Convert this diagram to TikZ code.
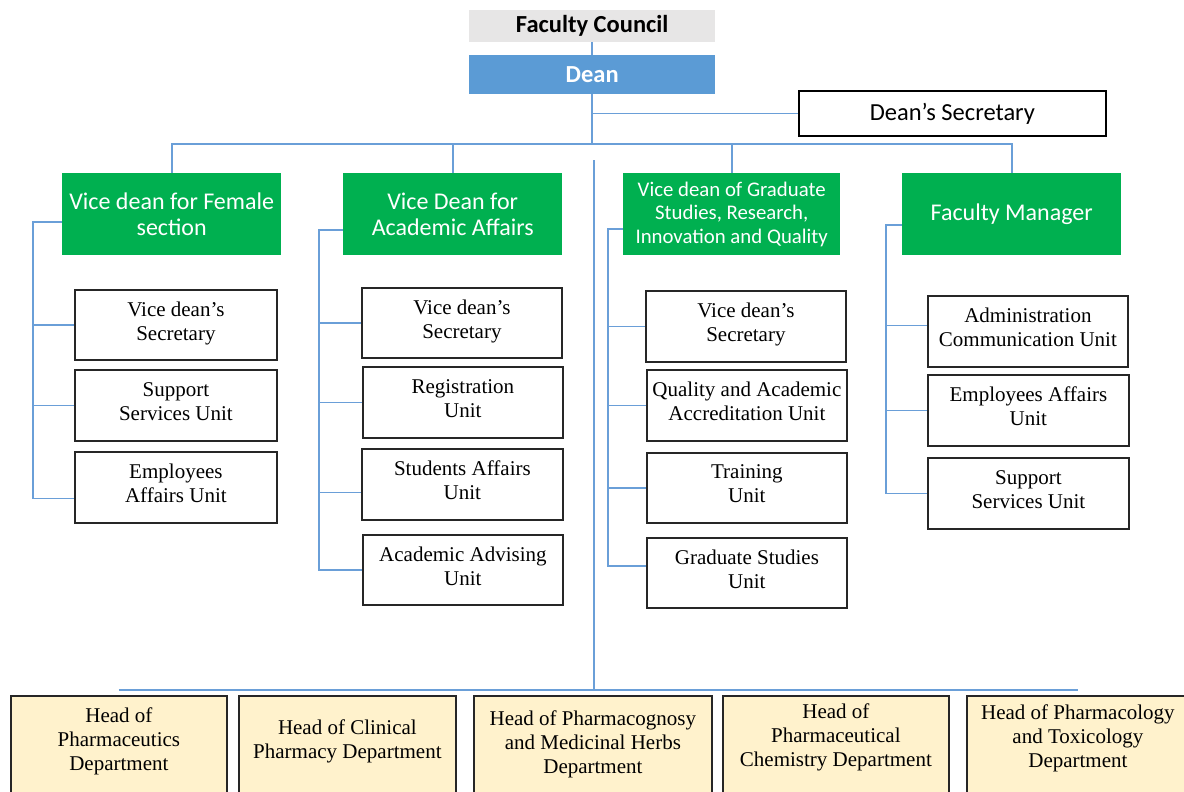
\documentclass[tikz,border=0pt]{standalone}
\usepackage{fontspec}
\setmainfont{Liberation Serif}
\newfontfamily\carlito{Carlito}
\usetikzlibrary{calc}
\definecolor{cblue}{HTML}{5B9BD5}
\definecolor{cgreen}{HTML}{00B050}
\definecolor{cgray}{HTML}{E7E6E6}
\definecolor{cyel}{HTML}{FFF2CC}
\definecolor{cline}{HTML}{6A9FD8}
\tikzset{
  box/.style={anchor=north west, inner sep=0pt, align=center},
  topbox/.style={box, fill=cgray, font=\carlito\bfseries\fontsize{24.5}{26}\selectfont},
  deanbox/.style={box, fill=cblue, text=white, font=\carlito\bfseries\fontsize{24.5}{26}\selectfont},
  secbox/.style={box, draw=black, line width=1.8pt, font=\carlito\fontsize{24.5}{26}\selectfont},
  vicebox/.style={box, fill=cgreen, text=white, font=\carlito\fontsize{24}{26}\selectfont},
  unitbox/.style={box, draw=black!85, line width=1.8pt, font=\fontsize{21}{24}\selectfont},
  depbox/.style={box, draw=black!85, fill=cyel, line width=1.8pt},
  deptext/.style={align=center, inner sep=0pt, font=\fontsize{21}{24}\selectfont},
  conn/.style={draw=cline, line width=1.6pt},
}
\newcommand\up{\\[-16pt]}
\begin{document}
\begin{tikzpicture}[x=1pt,y=1pt]
\useasboundingbox (0,0) rectangle (1184,-792);
\fill[white] (0,0) rectangle (1184,-792);

% top
\node[topbox, minimum width=246, minimum height=32] (fc) at (469,-10) {Faculty Council};
\node[deanbox, minimum width=246, minimum height=39] (dean) at (469,-55) {Dean};
\node[secbox, minimum width=307, minimum height=45] (ds) at (798,-90) {Dean’s Secretary};

% vice deans
\node[vicebox, minimum width=219, minimum height=82] (vf) at (62,-173) {Vice dean for Female\\section};
\node[vicebox, minimum width=219, minimum height=82] (va) at (343,-173) {Vice Dean for\\Academic Affairs};
\node[vicebox, minimum width=217, minimum height=82, font=\carlito\fontsize{20.8}{23.5}\selectfont] (vg) at (623,-173) {Vice dean of Graduate\\Studies, Research,\\Innovation and Quality};
\node[vicebox, minimum width=219, minimum height=82] (fm) at (902,-173) {Faculty Manager};

% column 1
\node[unitbox, minimum width=202, minimum height=70] (c1a) at (74,-289) {Vice dean’s\\Secretary\up};
\node[unitbox, minimum width=202, minimum height=71] (c1b) at (74,-369) {Support\\Services Unit\up};
\node[unitbox, minimum width=202, minimum height=71] (c1c) at (74,-451) {Employees\\Affairs Unit\up};

% column 2
\node[unitbox, minimum width=200, minimum height=70] (c2a) at (361,-287) {Vice dean’s\\Secretary\up};
\node[unitbox, minimum width=200, minimum height=71] (c2b) at (362,-366) {Registration\\Unit\up};
\node[unitbox, minimum width=201, minimum height=71] (c2c) at (361,-448) {Students Affairs\\Unit\up};
\node[unitbox, minimum width=200, minimum height=70] (c2d) at (362,-534) {Academic Advising\\Unit\up};

% column 3
\node[unitbox, minimum width=200, minimum height=71] (c3a) at (645,-290) {Vice dean’s\\Secretary\up};
\node[unitbox, minimum width=200, minimum height=71] (c3b) at (646,-369) {Quality and Academic\\Accreditation Unit\up};
\node[unitbox, minimum width=200, minimum height=70] (c3c) at (646,-452) {Training\\Unit\up};
\node[unitbox, minimum width=200, minimum height=70] (c3d) at (646,-537) {Graduate Studies\\Unit\up};

% column 4
\node[unitbox, minimum width=200, minimum height=71] (c4a) at (927,-295) {Administration\\Communication Unit\up};
\node[unitbox, minimum width=201, minimum height=71] (c4b) at (927,-374) {Employees Affairs\\Unit\up};
\node[unitbox, minimum width=201, minimum height=71] (c4c) at (927,-457) {Support\\Services Unit\up};

% departments
\node[depbox, minimum width=216, minimum height=110] (b1) at (10,-695) {};
\node[depbox, minimum width=217, minimum height=110] (b2) at (238,-695) {};
\node[depbox, minimum width=238, minimum height=110] (b3) at (473,-695) {};
\node[depbox, minimum width=226, minimum height=110] (b4) at (722,-695) {};
\node[depbox, minimum width=222, minimum height=110] (b5) at (966,-695) {};
\node[deptext] (b1t) at ($(b1.north)+(0,-46)$) {Head of\\Pharmaceutics\\Department};
\node[deptext] (b2t) at ($(b2.north)+(0,-46)$) {Head of Clinical\\Pharmacy Department};
\node[deptext] (b3t) at ($(b3.north)+(0,-49)$) {Head of Pharmacognosy\\and Medicinal Herbs\\Department};
\node[deptext] (b4t) at ($(b4.north)+(0,-42)$) {Head of\\Pharmaceutical\\Chemistry Department};
\node[deptext] (b5t) at ($(b5.north)+(0,-43)$) {Head of Pharmacology\\and Toxicology\\Department};

% top connectors
\coordinate (busy) at (0,-144);
\draw[conn] (fc.south) -- (dean.north);
\draw[conn] (dean.south) -- (dean.south |- busy);
\draw[conn] (dean.south |- ds.west) -- (ds.west);
\draw[conn] (vf.north) -- (vf.north |- busy) -- (fm.north |- busy) -- (fm.north);
\draw[conn] (va.north) -- (va.north |- busy);
\draw[conn] (vg.north) -- (vg.north |- busy);

% column brackets
\coordinate (s1) at (33,0);
\coordinate (s2) at (319,0);
\coordinate (s3) at (608,0);
\coordinate (s4) at (886,0);
\coordinate (g1) at ($(vf.west)+(0,-8)$);
\coordinate (g2) at ($(va.west)+(0,-16)$);
\coordinate (g3) at ($(vg.west)+(0,-15)$);
\coordinate (g4) at ($(fm.west)+(0,-11)$);
\coordinate (e1) at ($(c1c.west)+(0,-11)$);
\coordinate (e2) at ($(c2c.west)+(0,-8)$);
\coordinate (e3) at ($(c3d.west)+(0,7)$);
\coordinate (e4) at ($(c4a.west)+(0,6)$);

\draw[conn] (g1) -- (g1 -| s1) -- (e1 -| s1) -- (e1);
\draw[conn] (c1a.west -| s1) -- (c1a.west);
\draw[conn] (c1b.west -| s1) -- (c1b.west);

\draw[conn] (g2) -- (g2 -| s2) -- (c2d.west -| s2) -- (c2d.west);
\draw[conn] (c2a.west -| s2) -- (c2a.west);
\draw[conn] (c2b.west -| s2) -- (c2b.west);
\draw[conn] (e2 -| s2) -- (e2);

\draw[conn] (g3) -- (g3 -| s3) -- (e3 -| s3) -- (e3);
\draw[conn] (c3a.west -| s3) -- (c3a.west);
\draw[conn] (c3b.west -| s3) -- (c3b.west);
\draw[conn] (c3c.west -| s3) -- (c3c.west);

\draw[conn] (g4) -- (g4 -| s4) -- (c4c.west -| s4) -- (c4c.west);
\draw[conn] (e4 -| s4) -- (e4);
\draw[conn] (c4b.west -| s4) -- (c4b.west);

% department bus
\coordinate (vtop) at (594,-160);
\coordinate (bl) at ($(b1.north)+(0,5)$);
\coordinate (br) at ($(b5.north)+(0,5)$);
\draw[conn] (bl) -- (br);
\draw[conn] (vtop) -- (vtop |- bl);
\end{tikzpicture}
\end{document}
